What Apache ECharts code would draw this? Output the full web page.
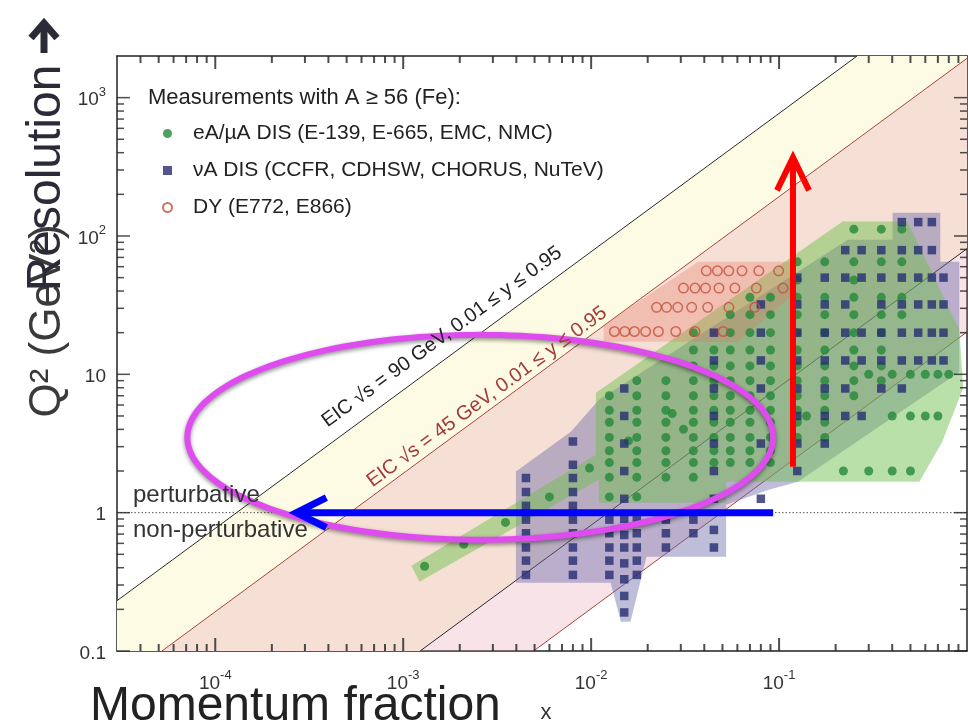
<!DOCTYPE html>
<html><head><meta charset="utf-8">
<script src="https://cdn.jsdelivr.net/npm/echarts@6/dist/echarts.min.js"></script>
<style>html,body{margin:0;padding:0;background:#fff}#c{width:968px;height:728px}</style>
</head><body><div id="c"></div>
<script>
// ================= DATA =================
const xMajorTicks = [1e-4, 1e-3, 1e-2, 1e-1];
const xTickLabels = ['{b|10}{s|-4}', '{b|10}{s|-3}', '{b|10}{s|-2}', '{b|10}{s|-1}'];
const yMajorTicks = [0.1, 1, 10, 100, 1000];
const yTickLabels = ['{b|0.1}', '{b|1}', '{b|10}', '{b|10}{s|2}', '{b|10}{s|3}'];
const minorMultipliers = [2, 3, 4, 5, 6, 7, 8, 9];

// eA / muA DIS (green dots): columns of x with Q2 lists
const eAColX = [0.0125, 0.0175, 0.025, 0.035, 0.045, 0.055, 0.07, 0.09, 0.125, 0.175, 0.25, 0.35, 0.45];
const eAColQ2 = [
  [1.3, 1.8, 2.3, 2.8, 3.5, 4.5, 5.5, 7],
  [1.3, 1.8, 2.3, 2.8, 3.5, 4.5, 5.5, 7, 9],
  [1.8, 2.3, 2.8, 3.5, 4.5, 5.5, 7, 9],
  [1.8, 2.3, 2.8, 3.5, 4.5, 5.5, 7, 9, 11.5, 15, 20],
  [2.3, 2.8, 3.5, 4.5, 5.5, 7, 9, 11.5, 15],
  [2.3, 2.8, 3.5, 4.5, 5.5, 7, 9, 11.5, 15, 20, 27],
  [2.3, 2.8, 3.5, 4.5, 5.5, 7, 9, 11.5, 15, 20, 27, 36],
  [2.3, 2.8, 3.5, 4.5, 5.5, 7, 9, 11.5, 15, 20, 27, 36],
  [3.5, 4.5, 5.5, 7, 9, 11.5, 15, 20, 27, 36, 48, 65],
  [3.5, 4.5, 5.5, 7, 9, 11.5, 15, 20, 27, 36, 65],
  [7, 9, 11.5, 15, 20, 27, 36, 48, 65, 112],
  [9, 11.5, 15, 20, 27, 36, 65, 112],
  [27, 36, 65, 112]
];
// isolated eA points (low-x diagonal and high-x fixed-Q2 rows)
const eAExtra = [
  [0.0013, 0.41], [0.0021, 0.59], [0.0035, 0.85], [0.006, 1.3], [0.0098, 2.1],
  [0.0158, 3.3], [0.031, 4.0], [0.027, 5.2],
  [0.22, 2], [0.3, 2], [0.4, 2], [0.5, 2],
  [0.14, 5], [0.4, 5], [0.5, 5], [0.6, 5], [0.7, 5],
  [0.3, 10], [0.4, 10], [0.5, 10], [0.6, 10], [0.7, 10], [0.8, 10]
];

// nuA DIS (navy squares)
const nuColX = [0.0045, 0.008, 0.0125, 0.015, 0.0175, 0.025, 0.035, 0.045, 0.08, 0.125, 0.175, 0.225, 0.275, 0.35, 0.45, 0.55, 0.65, 0.75];
const nuColQ2 = [
  [0.355, 0.45, 0.56, 0.71, 0.89, 1.12, 1.41, 1.78],
  [0.355, 0.45, 0.56, 0.71, 0.89, 1.12, 1.41, 1.78, 2.22, 3.27],
  [0.355, 0.45, 0.56, 0.71, 0.89],
  [0.19, 0.25, 0.33, 0.43, 0.56, 0.69, 0.9, 1.26, 2, 3.16, 5, 7.9],
  [0.355, 0.45, 0.56, 0.71, 0.89],
  [0.56, 0.71, 0.89],
  [0.71, 0.89],
  [0.56, 0.75, 1.26, 2, 3.16, 5, 7.9, 12.6, 20],
  [1.26, 3.16, 7.9, 12.6, 20, 32],
  [2, 3.16, 5, 7.9, 12.6, 20, 32, 50],
  [3.16, 5, 7.9, 12.6, 20, 32, 50],
  [5, 7.9, 12.6, 20, 32, 50, 79],
  [5, 12.6, 20, 50, 79],
  [7.9, 12.6, 20, 32, 50, 79],
  [7.9, 12.6, 20, 32, 50, 79, 126],
  [12.6, 20, 32, 50, 79, 126],
  [12.6, 20, 32, 50, 79, 126],
  [12.6, 20, 32, 50]
];

// DY (open red circles): rows of Q2 with x lists
const dyRowQ2 = [56, 42, 30.5, 20.4];
const dyRowX = [
  [0.041, 0.047, 0.054, 0.0635, 0.078, 0.0995],
  [0.031, 0.0357, 0.0406, 0.0479, 0.0582, 0.0757, 0.105],
  [0.0223, 0.0252, 0.0289, 0.0343, 0.0417, 0.0541, 0.0743],
  [0.0133, 0.0151, 0.017, 0.0195, 0.0228, 0.0282, 0.0357, 0.0504]
];

// shaded regions around each data set (x, Q2 vertices)
const greenRegion = [[1.22e-3, 0.317], [1.107e-3, 0.413], [0.0106, 2.62], [0.0106, 7.36], [0.218, 127], [0.482, 127],
  [0.91, 21], [0.955, 8.0], [0.739, 3.26], [0.558, 1.67], [0.0523, 1.67], [0.0523, 1.18], [0.011, 1.18], [0.011, 1.73]];
const navyRegion = [[3.98e-3, 0.311], [3.98e-3, 1.98], [7.8e-3, 3.85], [0.011, 6.55], [0.232, 94], [0.402, 94], [0.402, 147],
  [0.721, 147], [0.721, 65.2], [0.91, 65.2], [0.91, 10.4], [0.126, 1.67], [0.0873, 1.46], [0.0523, 1.14], [0.0523, 0.48],
  [0.0197, 0.48], [0.0162, 0.163], [0.0144, 0.163], [0.0127, 0.311]];
const dyRegion = [[0.01167, 17.2], [0.01167, 22.8], [0.0372, 65.2], [0.1142, 65.2], [0.1186, 37.6], [0.0605, 17.2]];

// EIC kinematic limits (end points of straight lines) and bands
const eic90Upper = [[3e-5, 0.231], [0.26, 2000]];
const eic45Upper = [[5.2e-5, 0.1], [1, 1924]];
const eic90Lower = [[1.23e-3, 0.1], [1, 81]];
const eic45Lower = [[4.94e-3, 0.1], [1, 20.25]];
const band90 = [[3e-5, 0.231], [3e-5, 0.1], [1.23e-3, 0.1], [1, 81], [1, 2000], [0.26, 2000]];
const band45 = [[5.2e-5, 0.1], [4.94e-3, 0.1], [1, 20.25], [1, 1924]];
const perturbativeLine = [[3e-5, 1], [1, 1]];

// annotations in data coordinates
const ellipseBox = [[7.1e-5, 0.637], [0.093, 19.3]];
const redArrow = [[0.1186, 2.15], [0.1186, 370]];
const blueArrow = [[0.093, 1], [2.7e-4, 1]];

// ================= CHART =================
const FONT = "'Liberation Sans', Arial, Helvetica, sans-serif";
const X_MIN = 3e-5, X_MAX = 1, Y_MIN = 0.1, Y_MAX = 2000;
const eAData = [];
eAColX.forEach((x, i) => eAColQ2[i].forEach(q => eAData.push([x, q])));
eAExtra.forEach(p => eAData.push(p));
const nuData = [];
nuColX.forEach((x, i) => nuColQ2[i].forEach(q => nuData.push([x, q])));
const dyData = [];
dyRowQ2.forEach((q, i) => dyRowX[i].forEach(x => dyData.push([x, q])));

const xTicks = xMajorTicks.map(v => [v, 1]);
const yTicks = yMajorTicks.map(v => [v, 1]);
for (let n = -5; n <= -1; n++) minorMultipliers.forEach(k => { const v = k * Math.pow(10, n); if (v > X_MIN * 1.01 && v < X_MAX * 0.999) xTicks.push([v, 0]); });
for (let n = -1; n <= 3; n++) minorMultipliers.forEach(k => { const v = k * Math.pow(10, n); if (v > Y_MIN * 1.001 && v < Y_MAX * 0.999) yTicks.push([v, 0]); });

// tick marks as small rect symbols anchored on the four frame sides
const TWX = 2, TWY = 1.5;
const tickItems = [];
xTicks.forEach(t => {
  const len = t[1] ? 13 : 7;
  tickItems.push({ value: [t[0], Y_MIN], symbolSize: [TWX, len], symbolOffset: [0, -len / 2] });
  tickItems.push({ value: [t[0], Y_MAX], symbolSize: [TWX, len], symbolOffset: [0, len / 2] });
});
yTicks.forEach(t => {
  const len = t[1] ? 13 : 7;
  tickItems.push({ value: [X_MIN, t[0]], symbolSize: [len, TWY], symbolOffset: [len / 2, 0] });
  tickItems.push({ value: [X_MAX, t[0]], symbolSize: [len, TWY], symbolOffset: [-len / 2, 0] });
});

function labelFor(ticks, labels) {
  return function (v) {
    for (let i = 0; i < ticks.length; i++) if (Math.abs(Math.log10(v) - Math.log10(ticks[i])) < 1e-6) return labels[i];
    return '';
  };
}
const rich = {
  b: { fontSize: 19, lineHeight: 24, verticalAlign: 'bottom', color: '#333', fontFamily: FONT },
  s: { fontSize: 13, lineHeight: 13, verticalAlign: 'top', color: '#333', fontFamily: FONT }
};
const axisLineStyle = { color: '#222', width: 1.5 };
function xAx(pos, showLabel) {
  return { type: 'log', logBase: 10, min: X_MIN, max: X_MAX, position: pos,
    axisLine: { show: true, onZero: false, lineStyle: axisLineStyle },
    axisTick: { show: false },
    axisLabel: { show: showLabel, margin: 18, formatter: labelFor(xMajorTicks, xTickLabels), rich, showMinLabel: false, showMaxLabel: false },
    splitLine: { show: false } };
}
function yAx(pos, showLabel) {
  return { type: 'log', logBase: 10, min: Y_MIN, max: Y_MAX, position: pos,
    axisLine: { show: true, onZero: false, lineStyle: axisLineStyle },
    axisTick: { show: false },
    axisLabel: { show: showLabel, margin: 11, formatter: labelFor(yMajorTicks, yTickLabels), rich, showMinLabel: true, showMaxLabel: false },
    splitLine: { show: false } };
}
function polygonSeries(polys, styles, z) {
  return { type: 'custom', coordinateSystem: 'cartesian2d', z, silent: true, clip: true,
    data: polys.map((p, i) => [p[0][0], p[0][1], i]), encode: { x: 0, y: 1 },
    renderItem: (params, api) => {
      const i = api.value(2);
      return { type: 'polygon', shape: { points: polys[i].map(pt => api.coord(pt)) }, style: styles[i] };
    } };
}
function lineSeries(data, color, extra) {
  return Object.assign({ type: 'line', data, symbol: 'none', silent: true, z: 2,
    lineStyle: { color, width: 1 }, animation: false }, extra || {});
}
function arrowSeries(arr, color, width, headLen, headHalf) {
  return { type: 'custom', coordinateSystem: 'cartesian2d', z: 8, silent: true, clip: false,
    data: [[arr[0][0], arr[0][1]]], encode: { x: 0, y: 1 },
    renderItem: (params, api) => {
      const a = api.coord(arr[0]), b = api.coord(arr[1]);
      const dx = b[0] - a[0], dy = b[1] - a[1], L = Math.hypot(dx, dy);
      const ux = dx / L, uy = dy / L, px = -uy, py = ux;
      const bx = b[0] - ux * headLen, by = b[1] - uy * headLen;
      const st = { stroke: color, lineWidth: width, fill: 'none', lineJoin: 'miter', lineCap: 'butt' };
      return { type: 'group', children: [
        { type: 'polyline', shape: { points: [a, [b[0] - ux * 2, b[1] - uy * 2]] }, style: st },
        { type: 'polyline', shape: { points: [[bx + px * headHalf, by + py * headHalf], b, [bx - px * headHalf, by - py * headHalf]] }, style: st }
      ] };
    } };
}

const NAMES = ['eA/µA DIS (E-139, E-665, EMC, NMC)', 'νA DIS (CCFR, CDHSW, CHORUS, NuTeV)', 'DY (E772, E866)'];
const chart = echarts.init(document.getElementById('c'));
chart.setOption({
  animation: false,
  backgroundColor: '#fff',
  grid: { left: 117, right: 1, top: 56, bottom: 77, containLabel: false },
  xAxis: [xAx('bottom', true), xAx('top', false)],
  yAxis: [yAx('left', true), yAx('right', false)],
  legend: {
    orient: 'vertical', left: 162, top: 123, itemWidth: 9, itemHeight: 9, itemGap: 16, padding: 0,
    selectedMode: false,
    textStyle: { fontSize: 21, color: '#222', fontFamily: FONT, padding: [0, 0, 0, 16] },
    data: NAMES
  },
  series: [
    polygonSeries([band90, band45], [{ fill: '#fdfbe3' }, { fill: 'rgba(232,160,178,0.29)' }], 1),
    lineSeries(eic90Upper, '#2a2a2a'),
    lineSeries(eic90Lower, '#2a2a2a'),
    lineSeries(eic45Upper, '#a5473e'),
    lineSeries(eic45Lower, '#a5473e'),
    lineSeries(perturbativeLine, '#555', { lineStyle: { color: '#555', width: 1, type: [1.5, 2] } }),
    polygonSeries([navyRegion, greenRegion, dyRegion], [
      { fill: 'rgba(100,100,165,0.42)' },
      { fill: 'rgba(110,190,75,0.48)' },
      { fill: 'rgba(230,115,95,0.30)' }
    ], 3),
    { type: 'scatter', name: NAMES[0], data: eAData, symbol: 'circle', symbolSize: 9, z: 4,
      itemStyle: { color: '#24883a' }, silent: true },
    { type: 'scatter', name: NAMES[1], data: nuData, symbol: 'rect', symbolSize: 8.5, z: 4,
      itemStyle: { color: '#262d70' }, silent: true },
    { type: 'scatter', name: NAMES[2], data: dyData, symbol: 'circle', symbolSize: 9.5, z: 4,
      itemStyle: { color: 'rgba(0,0,0,0)', borderColor: '#c4503f', borderWidth: 1.5 }, silent: true },
    { type: 'scatter', data: tickItems, symbol: 'rect', z: 9, clip: false, silent: true,
      itemStyle: { color: '#222' }, emphasis: { disabled: true } },
    { type: 'custom', coordinateSystem: 'cartesian2d', z: 7, silent: true, clip: false,
      data: [[ellipseBox[0][0], ellipseBox[0][1]]], encode: { x: 0, y: 1 },
      renderItem: (params, api) => {
        const p1 = api.coord(ellipseBox[0]), p2 = api.coord(ellipseBox[1]);
        const cx = (p1[0] + p2[0]) / 2, cy = (p1[1] + p2[1]) / 2;
        const rx = Math.abs(p2[0] - p1[0]) / 2, ry = Math.abs(p2[1] - p1[1]) / 2;
        const pts = [];
        for (let k = 0; k < 180; k++) { const t = k / 180 * 2 * Math.PI; pts.push([cx + rx * Math.cos(t), cy + ry * Math.sin(t)]); }
        return { type: 'polygon', shape: { points: pts },
          style: { fill: 'none', stroke: '#de4cf0', lineWidth: 6, shadowBlur: 4, shadowOffsetY: 2, shadowColor: 'rgba(0,0,0,0.45)' } };
      } },
    arrowSeries(blueArrow, '#0000ff', 7, 30, 15),
    arrowSeries(redArrow, '#ff0000', 6, 33, 16)
  ],
  graphic: [
    { type: 'text', x: 148, y: 98, z: 10, style: { text: 'Measurements with A ≥ 56 (Fe):', font: '22px ' + FONT, fill: '#222', verticalAlign: 'middle' } },
    { type: 'text', x: 133, y: 495, z: 10, style: { text: 'perturbative', font: '24px ' + FONT, fill: '#333', verticalAlign: 'middle' } },
    { type: 'text', x: 133, y: 530, z: 10, style: { text: 'non-perturbative', font: '24px ' + FONT, fill: '#333', verticalAlign: 'middle' } },
    { type: 'text', x: 442, y: 337, rotation: 36.2 * Math.PI / 180, z: 10,
      style: { text: 'EIC √s = 90 GeV, 0.01 ≤ y ≤ 0.95', font: '20px ' + FONT, fill: '#222', align: 'center', verticalAlign: 'middle' } },
    { type: 'text', x: 487, y: 397, rotation: 36.2 * Math.PI / 180, z: 10,
      style: { text: 'EIC √s = 45 GeV, 0.01 ≤ y ≤ 0.95', font: '20px ' + FONT, fill: '#a33b3b', align: 'center', verticalAlign: 'middle' } },
    { type: 'text', x: 48, y: 321, rotation: Math.PI / 2, z: 10,
      style: { text: 'Q² (GeV²)', font: '44px ' + FONT, fill: '#3a3a3a', align: 'center', verticalAlign: 'middle' } },
    { type: 'text', x: 47, y: 178, rotation: Math.PI / 2, z: 11,
      style: { text: 'Resolution', font: '48px ' + FONT, fill: '#2b2b38', align: 'center', verticalAlign: 'middle' } },
    { type: 'polyline', z: 11, shape: { points: [[44, 53], [44, 24]] }, style: { stroke: '#2b2b38', lineWidth: 7, fill: 'none' } },
    { type: 'polyline', z: 11, shape: { points: [[31, 38], [44, 23], [57, 38]] }, style: { stroke: '#2b2b38', lineWidth: 7, fill: 'none', lineJoin: 'miter' } },
    { type: 'text', x: 90, y: 707, z: 10, style: { text: 'Momentum fraction', font: '48px ' + FONT, fill: '#222', verticalAlign: 'middle' } },
    { type: 'text', x: 546, y: 713, z: 10, style: { text: 'x', font: '22px ' + FONT, fill: '#333', align: 'center', verticalAlign: 'middle' } }
  ]
});
</script>
</body></html>
